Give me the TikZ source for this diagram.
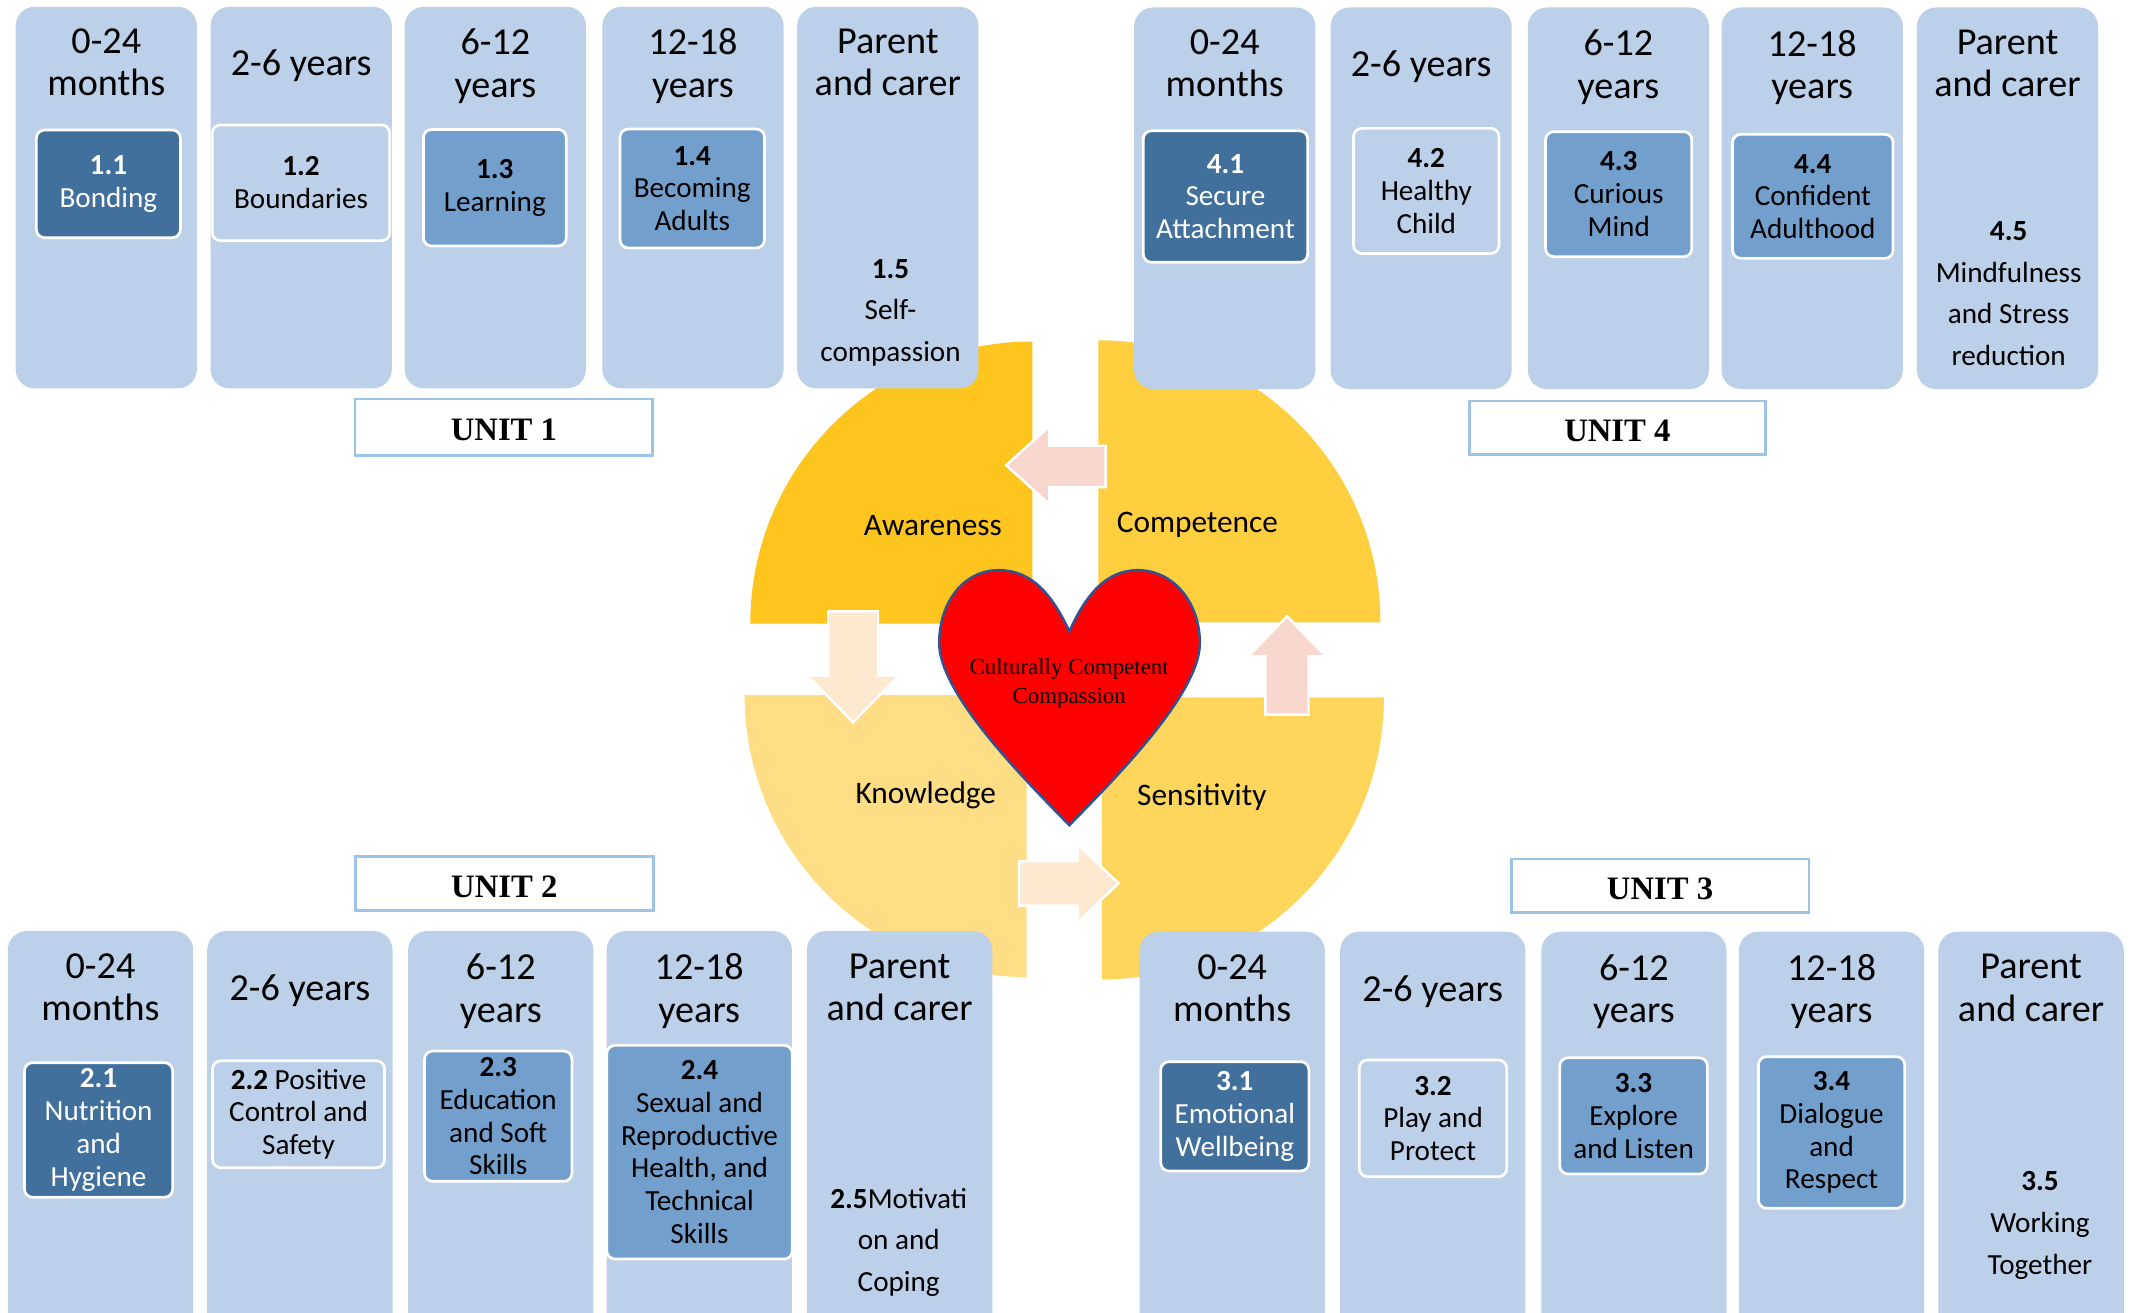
\documentclass[tikz,border=0pt]{standalone}
\usepackage{fontspec}
\setmainfont{Carlito}
\newfontfamily\serifgar{Liberation Serif}
\definecolor{colblue}{HTML}{BDD0E9}
\definecolor{darkblue}{HTML}{41709C}
\definecolor{midblue}{HTML}{739FCD}
\definecolor{unitline}{HTML}{9DC3E6}
\definecolor{pAw}{HTML}{FDC51D}
\definecolor{pCo}{HTML}{FFCF3F}
\definecolor{pKn}{HTML}{FEDD85}
\definecolor{pSe}{HTML}{FFD65C}
\definecolor{arrPink}{HTML}{F8D8CE}
\definecolor{arrPeach}{HTML}{FEE8D0}
\definecolor{heartline}{HTML}{2F5496}
\begin{document}
\begin{tikzpicture}[x=0.5pt,y=-0.5pt,
  colbox/.style={fill=colblue, draw=none, rounded corners=7pt, inner sep=0pt, minimum width=66.5pt, minimum height=140pt},
  colboxb/.style={colbox, minimum width=68pt, minimum height=160pt},
  head/.style={font=\fontsize{14}{15.5}\selectfont, align=center, inner sep=0pt},
  inbox/.style={draw=white, line width=1pt, rounded corners=3pt, align=center, inner sep=0pt, font=\fontsize{10.7}{12}\selectfont},
  darkbox/.style={inbox, fill=darkblue, text=white},
  midbox/.style={inbox, fill=midblue},
  lightbox/.style={inbox, fill=colblue},
  parenttxt/.style={align=center, inner sep=0pt, font=\fontsize{10.7}{15.25}\selectfont},
  unitbox/.style={draw=unitline, fill=white, line width=1pt, inner sep=0pt, text height=10pt, text depth=0pt, minimum width=109.2pt, minimum height=20pt, font=\serifgar\bfseries\fontsize{12}{14}\selectfont},
  petallabel/.style={inner sep=0pt, font=\fontsize{11.5}{13}\selectfont},
  blockarrow/.style={draw=white, line width=0.9pt, line join=miter},
  heartstyle/.style={fill=red, draw=heartline, line width=0.9pt},
  hearttext/.style={align=center, inner sep=0pt, font=\serifgar\fontsize{8.4}{10.8}\selectfont}
]
\clip (0,0) rectangle (1566,963);
\fill[white] (0,0) rectangle (1566,963);

% petals
\fill[pAw] (757.6,457.6) -- (550.6,457.6) arc[start angle=180, end angle=270, radius=207] -- cycle;
\fill[pCo] (806,456.7) -- (806,249.7) arc[start angle=270, end angle=360, radius=207] -- cycle;
\fill[pKn] (753.4,510) -- (546.4,510) arc[start angle=180, end angle=90, radius=207] -- cycle;
\fill[pSe] (808.5,511.7) -- (1015.5,511.7) arc[start angle=0, end angle=90, radius=207] -- cycle;

% block arrows
\filldraw[blockarrow, fill=arrPink] (738.3,341.4) -- (770,312.8) -- (770,327.1) -- (811.3,327.1) -- (811.3,357.4) -- (770,357.4) -- (770,370) -- cycle;
\filldraw[blockarrow, fill=arrPeach] (626,530.1) -- (592.7,495.8) -- (607.8,495.8) -- (607.8,448.7) -- (644.3,448.7) -- (644.3,495.8) -- (659.4,495.8) -- cycle;
\filldraw[blockarrow, fill=arrPeach] (820.8,648.2) -- (791,619.9) -- (791,632) -- (747.8,632) -- (747.8,664.5) -- (791,664.5) -- (791,676.5) -- cycle;
\filldraw[blockarrow, fill=arrPink] (944.4,452.2) -- (916.3,481.5) -- (928.6,481.5) -- (928.6,524.4) -- (960.2,524.4) -- (960.2,481.5) -- (972.8,481.5) -- cycle;

% petal labels
\node[petallabel] (aw) at (684.6,386) {Awareness};
\node[petallabel] (co) at (878.7,384.8) {Competence};
\node[petallabel] (kn) at (679.4,583.5) {Knowledge};
\node[petallabel] (se) at (882,585.2) {Sensitivity};

% heart
\filldraw[heartstyle] (784.7,463.3) .. controls (772,436) and (757,418.4) .. (733,418.4)
  .. controls (707,418.4) and (689.2,442) .. (689.2,472)
  .. controls (689.2,510) and (755,575) .. (784.7,605.6)
  .. controls (814.4,575) and (880.5,510) .. (880.5,472)
  .. controls (880.5,442) and (861,418.4) .. (835,418.4)
  .. controls (812,418.4) and (797,436) .. (784.7,463.3) -- cycle;
\node[hearttext] (ccc) at (784.6,501.5) {Culturally Competent\\Compassion};

% ---------- UNIT 1 ----------
\node[colbox] (tl1) at (78,145) {};
\node[colbox] (tl2) at (221,145) {};
\node[colbox] (tl3) at (363.5,145) {};
\node[colbox] (tl4) at (508.5,145) {};
\node[colbox] (tl5) at (651.5,145) {};
\node[head] (tl1h) at (78,45.8) {0-24\\months};
\node[head] (tl2h) at (221,48.2) {2-6 years};
\node[head] (tl3h) at (363.5,48.5) {6-12\\years};
\node[head] (tl4h) at (508.5,48.5) {12-18\\years};
\node[head] (tl5h) at (651.5,45.6) {Parent\\and carer};
\node[darkbox, minimum width=52.85pt, minimum height=39.5pt] (u11) at (79.55,134.9) {\bfseries 1.1\\Bonding};
\node[lightbox, minimum width=65.1pt, minimum height=42.45pt] (u12) at (220.9,134.15) {\bfseries 1.2\\Boundaries};
\node[midbox, minimum width=52.4pt, minimum height=42.75pt] (u13) at (363.1,137.75) {\bfseries 1.3\\Learning};
\node[midbox, minimum width=53pt, minimum height=43.65pt] (u14) at (508,138.35) {\bfseries 1.4\\Becoming\\Adults};
\node[parenttxt] (u15) at (653.5,229.5) {\bfseries 1.5\\Self-\\compassion};
\node[unitbox, minimum height=20.6pt] (unit1) at (369.8,313.4) {UNIT 1};

% ---------- UNIT 4 ----------
\node[colbox] (tr1) at (898.75,145.5) {};
\node[colbox] (tr2) at (1042.85,145.5) {};
\node[colbox] (tr3) at (1187.6,145.5) {};
\node[colbox] (tr4) at (1329.85,145.5) {};
\node[colbox] (tr5) at (1473.15,145.5) {};
\node[head] (tr1h) at (898.75,46.6) {0-24\\months};
\node[head] (tr2h) at (1042.85,49) {2-6 years};
\node[head] (tr3h) at (1187.6,49.3) {6-12\\years};
\node[head] (tr4h) at (1329.85,49.3) {12-18\\years};
\node[head] (tr5h) at (1473.15,46.4) {Parent\\and carer};
\node[darkbox, minimum width=60.3pt, minimum height=48.25pt] (u41) at (899.3,144.25) {\bfseries 4.1\\Secure\\Attachment};
\node[lightbox, minimum width=53.35pt, minimum height=45.9pt] (u42) at (1046.65,140.1) {\bfseries 4.2\\Healthy\\Child};
\node[midbox, minimum width=53.65pt, minimum height=45.9pt] (u43) at (1187.85,142.5) {\bfseries 4.3\\Curious\\Mind};
\node[midbox, minimum width=58.9pt, minimum height=45.5pt] (u44) at (1330.3,144.1) {\bfseries 4.4\\Confident\\Adulthood};
\node[parenttxt] (u45) at (1474,215.5) {\bfseries 4.5\\Mindfulness\\and Stress\\reduction};
\node[unitbox, minimum width=108.7pt, minimum height=19.55pt] (unit4) at (1186.9,313.85) {UNIT 4};

% ---------- UNIT 2 ----------
\node[colboxb] (bl1) at (73.75,843.2) {};
\node[colboxb] (bl2) at (220.05,843.2) {};
\node[colboxb] (bl3) at (367.5,843.2) {};
\node[colboxb] (bl4) at (513.1,843.2) {};
\node[colboxb] (bl5) at (660.15,843.2) {};
\node[head] (bl1h) at (73.75,724.6) {0-24\\months};
\node[head] (bl2h) at (220.05,727) {2-6 years};
\node[head] (bl3h) at (367.5,727.3) {6-12\\years};
\node[head] (bl4h) at (513.1,727.3) {12-18\\years};
\node[head] (bl5h) at (660.15,724.4) {Parent\\and carer};
\node[darkbox, minimum width=54.35pt, minimum height=49.4pt] (u21) at (72.35,829.2) {\bfseries 2.1\\Nutrition\\and\\Hygiene};
\node[lightbox, minimum width=63.1pt, minimum height=39.25pt] (u22) at (219.1,817.65) {\textbf{2.2} Positive\\Control and\\Safety};
\node[midbox, minimum width=54.1pt, minimum height=47.8pt] (u23) at (365.6,819.1) {\bfseries 2.3\\Education\\and Soft\\Skills};
\node[midbox, minimum width=68.05pt, minimum height=78.4pt] (u24) at (513.35,845.5) {\bfseries 2.4\\Sexual and\\Reproductive\\Health, and\\Technical\\Skills};
\node[parenttxt] (u25) at (659.5,911.7) {\textbf{2.5}Motivati\\on and\\Coping};
\node[unitbox, minimum height=19.8pt] (unit2) at (370.1,648.5) {UNIT 2};

% ---------- UNIT 3 ----------
\node[colboxb] (br1) at (904.2,843.7) {};
\node[colboxb] (br2) at (1051.4,843.7) {};
\node[colboxb] (br3) at (1199,843.7) {};
\node[colboxb] (br4) at (1344.05,843.7) {};
\node[colboxb] (br5) at (1490.45,843.7) {};
\node[head] (br1h) at (904.2,725.1) {0-24\\months};
\node[head] (br2h) at (1051.4,727.5) {2-6 years};
\node[head] (br3h) at (1199,727.8) {6-12\\years};
\node[head] (br4h) at (1344.05,727.8) {12-18\\years};
\node[head] (br5h) at (1490.45,724.9) {Parent\\and carer};
\node[darkbox, minimum width=54.35pt, minimum height=40.1pt] (u31) at (906.15,819.2) {\bfseries 3.1\\Emotional\\Wellbeing};
\node[lightbox, minimum width=54.1pt, minimum height=42.8pt] (u32) at (1051.6,820.7) {\bfseries 3.2\\Play and\\Protect};
\node[midbox, minimum width=54.15pt, minimum height=42.65pt] (u33) at (1198.75,818.85) {\bfseries 3.3\\Explore\\and Listen};
\node[midbox, minimum width=53.65pt, minimum height=55.65pt] (u34) at (1344.05,831.05) {\bfseries 3.4\\Dialogue\\and\\Respect};
\node[parenttxt] (u35) at (1497,899.3) {\bfseries 3.5\\Working\\Together};
\node[unitbox, minimum height=19.7pt] (unit3) at (1218.2,650.1) {UNIT 3};
\end{tikzpicture}
\end{document}
